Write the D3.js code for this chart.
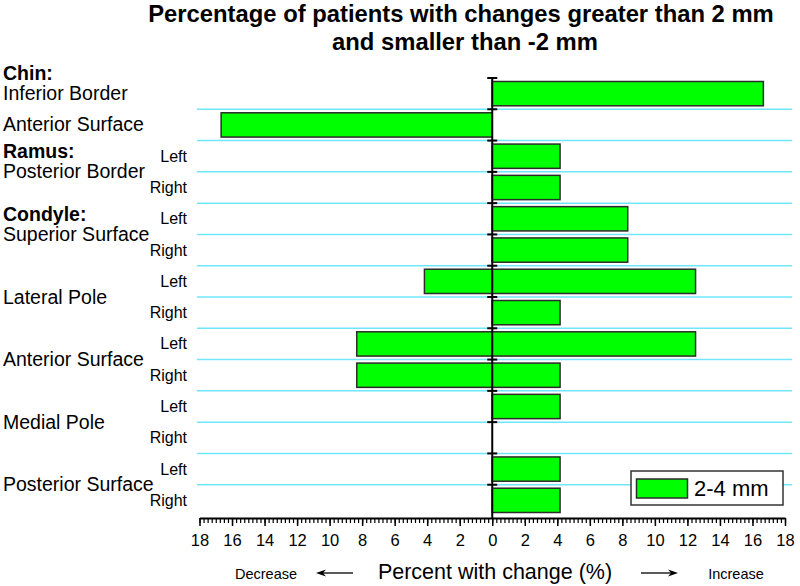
<!DOCTYPE html>
<html>
<head>
<meta charset="utf-8">
<script src="https://cdn.jsdelivr.net/npm/d3@7"></script>
<style>
  body { margin: 0; background: #fff; }
  text { font-family: "Liberation Sans", Arial, sans-serif; fill: #000; }
</style>
</head>
<body>
<div id="chart"></div>
<script>
// Data: one entry per row, top to bottom
var sideLabels = ["", "", "Left", "Right", "Left", "Right", "Left", "Right",
                  "Left", "Right", "Left", "Right", "Left", "Right"];
var increasePct = [16.67, 0, 4.17, 4.17, 8.33, 8.33, 12.5, 4.17, 12.5, 4.17, 4.17, 0, 4.17, 4.17];
var decreasePct = [0, 16.67, 0, 0, 0, 0, 4.17, 0, 8.33, 8.33, 0, 0, 0, 0];

// Row groups on the left
var groupNames = ["Inferior Border", "Anterior Surface", "Posterior Border", "Superior Surface",
                  "Lateral Pole", "Anterior Surface", "Medial Pole", "Posterior Surface"];
var groupStart = [0, 1, 2, 4, 6, 8, 10, 12];
var groupSize = [1, 1, 2, 2, 2, 2, 2, 2];
var headerNames = ["Chin:", "Ramus:", "Condyle:"];
var headerGroup = [0, 2, 3];

var xTicks = [-18, -16, -14, -12, -10, -8, -6, -4, -2, 0, 2, 4, 6, 8, 10, 12, 14, 16, 18];
var legendLabel = "2-4 mm";

var W = 800, H = 586;
var svg = d3.select("#chart").append("svg")
    .attr("width", W).attr("height", H);

var x = d3.scaleLinear().domain([-18, 18]).range([199.5, 785]);
var y = d3.scaleBand().domain(d3.range(sideLabels.length)).range([78, 516]).padding(0);
var axisY = 518;

// Title
svg.append("text").attr("x", 461).attr("y", 22).attr("text-anchor", "middle")
    .attr("font-weight", "bold").attr("font-size", 23.8)
    .text("Percentage of patients with changes greater than 2 mm");
svg.append("text").attr("x", 465).attr("y", 50).attr("text-anchor", "middle")
    .attr("font-weight", "bold").attr("font-size", 23.8)
    .text("and smaller than -2 mm");

// Cyan row separators
svg.append("g").selectAll("line")
    .data(d3.range(1, sideLabels.length))
    .enter().append("line")
    .attr("x1", 197).attr("x2", 792)
    .attr("y1", function(i) { return y(i); })
    .attr("y2", function(i) { return y(i); })
    .attr("stroke", "#6fe6fb").attr("stroke-width", 1.5);

// Bars
var bars = svg.append("g");
var inset = 3.5;
function addBars(vals, sign) {
    bars.selectAll(null)
        .data(vals.map(function(v, i) { return [i, v]; }).filter(function(d) { return d[1] > 0; }))
        .enter().append("rect")
        .attr("x", function(d) { return sign > 0 ? x(0) : x(-d[1]); })
        .attr("width", function(d) { return x(d[1]) - x(0); })
        .attr("y", function(d) { return y(d[0]) + inset; })
        .attr("height", y.bandwidth() - 2 * inset)
        .attr("fill", "#00ff00").attr("stroke", "#2b2b2b").attr("stroke-width", 1.5);
}
addBars(increasePct, 1);
addBars(decreasePct, -1);

// Vertical zero axis
svg.append("line").attr("x1", x(0)).attr("x2", x(0))
    .attr("y1", 78).attr("y2", axisY)
    .attr("stroke", "#000").attr("stroke-width", 2);
svg.append("g").selectAll("line")
    .data(d3.range(0, sideLabels.length))
    .enter().append("line")
    .attr("x1", x(0) - 5).attr("x2", x(0) + 5)
    .attr("y1", function(i) { return y(i); })
    .attr("y2", function(i) { return y(i); })
    .attr("stroke", "#000").attr("stroke-width", 2);

// Bottom axis: minor ticks then major ticks with labels
var minor = svg.append("g").attr("transform", "translate(0," + axisY + ")")
    .call(d3.axisBottom(x).tickValues(d3.range(-18, 18.01, 0.25))
        .tickSize(5).tickFormat(""));
minor.select(".domain").remove();
minor.selectAll("line").attr("stroke", "#000").attr("stroke-width", 1.2);

var major = svg.append("g").attr("transform", "translate(0," + axisY + ")")
    .call(d3.axisBottom(x).tickValues(xTicks).tickSize(8).tickSizeOuter(0)
        .tickFormat(function(d) { return Math.abs(d); }));
major.select(".domain").attr("stroke", "#000").attr("stroke-width", 2);
major.selectAll("line").attr("stroke", "#000").attr("stroke-width", 1.5);
major.selectAll("text").attr("font-size", 16.5).attr("dy", "1.05em")
    .attr("font-family", "Liberation Sans, Arial, sans-serif").attr("fill", "#000");

// Axis title and direction hints
svg.append("text").attr("x", 495).attr("y", 579).attr("text-anchor", "middle")
    .attr("font-size", 21.5).text("Percent with change (%)");
svg.append("text").attr("x", 266).attr("y", 579).attr("text-anchor", "middle")
    .attr("font-size", 14.5).text("Decrease");
svg.append("text").attr("x", 736).attr("y", 579).attr("text-anchor", "middle")
    .attr("font-size", 14.5).text("Increase");

function arrow(x1, x2, yy) {
    var dir = x2 > x1 ? 1 : -1;
    svg.append("line").attr("x1", x1).attr("x2", x2 - dir * 6)
        .attr("y1", yy).attr("y2", yy).attr("stroke", "#000").attr("stroke-width", 1.3);
    svg.append("path")
        .attr("d", "M" + x2 + "," + yy + "L" + (x2 - dir * 10) + "," + (yy - 3.5) +
              "L" + (x2 - dir * 7) + "," + yy + "L" + (x2 - dir * 10) + "," + (yy + 3.5) + "Z")
        .attr("fill", "#000");
}
arrow(353, 316, 573);
arrow(641, 678, 573);

// Left / Right side labels
svg.append("g").selectAll("text")
    .data(sideLabels.map(function(s, i) { return [i, s]; }).filter(function(d) { return d[1]; }))
    .enter().append("text")
    .attr("x", 187).attr("text-anchor", "end")
    .attr("y", function(d) { return y(d[0]) + y.bandwidth() / 2 + 5.5; })
    .attr("font-size", 16)
    .text(function(d) { return d[1]; });

// Group labels
function groupBase(g) {
    return y(groupStart[g]) + groupSize[g] * y.bandwidth() / 2 + 6.5;
}
svg.append("g").selectAll("text")
    .data(groupNames).enter().append("text")
    .attr("x", 3)
    .attr("y", function(d, g) { return groupBase(g); })
    .attr("font-size", 19.5)
    .text(function(d) { return d; });
svg.append("g").selectAll("text")
    .data(headerNames).enter().append("text")
    .attr("x", 3)
    .attr("y", function(d, k) { return groupBase(headerGroup[k]) - 20; })
    .attr("font-size", 19.5).attr("font-weight", "bold")
    .text(function(d) { return d; });

// Legend
var lg = svg.append("g");
lg.append("rect").attr("x", 631).attr("y", 471).attr("width", 152).attr("height", 34)
    .attr("fill", "#fff").attr("stroke", "#333").attr("stroke-width", 1.5);
lg.append("rect").attr("x", 636.5).attr("y", 479).attr("width", 51).attr("height", 19)
    .attr("fill", "#00ff00").attr("stroke", "#2b2b2b").attr("stroke-width", 1.5);
lg.append("text").attr("x", 694).attr("y", 496).attr("font-size", 22).text(legendLabel);
</script>
</body>
</html>
